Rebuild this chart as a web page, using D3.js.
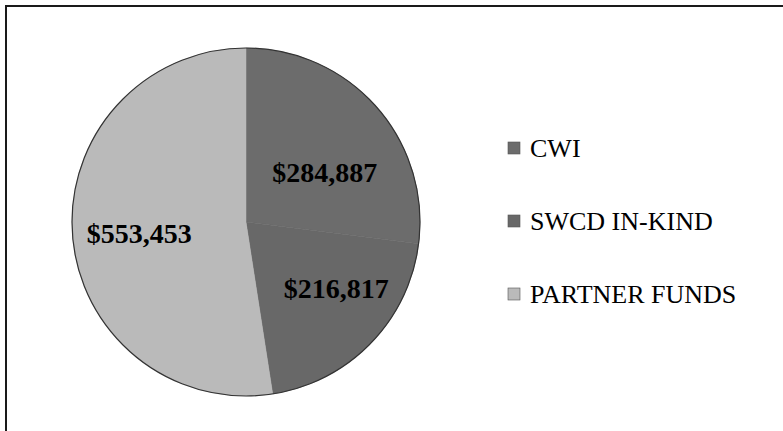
<!DOCTYPE html>
<html><head><meta charset="utf-8">
<script src="https://cdn.jsdelivr.net/npm/d3@7"></script>
</head><body style="margin:0">
<svg id="chart" width="783" height="431" style="display:block;font-family:'Liberation Serif'"></svg>
<script>
const categories = ["CWI", "SWCD IN-KIND", "PARTNER FUNDS"];
const values = [284887, 216817, 553453];
const labels = ["$284,887", "$216,817", "$553,453"];
const colors = ["#6c6c6c", "#686868", "#bababa"];

const FONT = '"Liberation Serif"';
const svg = d3.select("#chart");
svg.append("rect").attr("x", 6).attr("y", 6).attr("width", 820).attr("height", 460)
  .attr("fill", "#fff").attr("stroke", "#1a1a1a").attr("stroke-width", 2);

const cx = 246, cy = 222, R = 174;
const data = categories.map((c, i) => ({ c, v: values[i], l: labels[i], col: colors[i] }));
const pie = d3.pie().value(d => d.v).sort(null);
const arcs = pie(data);
const arc = d3.arc().innerRadius(0).outerRadius(R);
const g = svg.append("g").attr("transform", `translate(${cx},${cy})`);
g.selectAll("path").data(arcs).join("path")
  .attr("d", arc).attr("fill", d => d.data.col)
  .attr("stroke", d => d.data.col).attr("stroke-width", 0.5);
g.append("circle").attr("r", R).attr("fill", "none").attr("stroke", "#333").attr("stroke-width", 1.2);

// label placement: centroid at a radius, then a small best-fit nudge
const labelRadius = [105, 112, 108];
const labelNudge = [[0, 20], [10, -12], [1, 3]];
g.selectAll("text.lbl").data(arcs).join("text").attr("class", "lbl")
  .attr("transform", (d, i) => {
    const a = d3.arc().innerRadius(labelRadius[i]).outerRadius(labelRadius[i]);
    const [x, y] = a.centroid(d);
    return `translate(${x + labelNudge[i][0]},${y + labelNudge[i][1]})`;
  })
  .attr("text-anchor", "middle").attr("dy", "0.35em")
  .style("font-family", FONT)
  .style("font-weight", "bold").style("font-size", "28px").attr("fill", "#000")
  .text(d => d.data.l);

const legend = svg.append("g");
const ly = d3.scalePoint().domain(categories).range([148, 294]);
const items = legend.selectAll("g").data(data).join("g")
  .attr("transform", d => `translate(508,${ly(d.c)})`);
items.append("rect").attr("x", 0).attr("y", -6).attr("width", 12).attr("height", 12)
  .attr("fill", d => d.col).attr("stroke", "#555").attr("stroke-width", 0.6);
items.append("text").attr("x", 22).attr("y", 9)
  .style("font-family", FONT)
  .style("font-size", "26px").attr("fill", "#000")
  .text(d => d.c);
</script>
</body></html>
